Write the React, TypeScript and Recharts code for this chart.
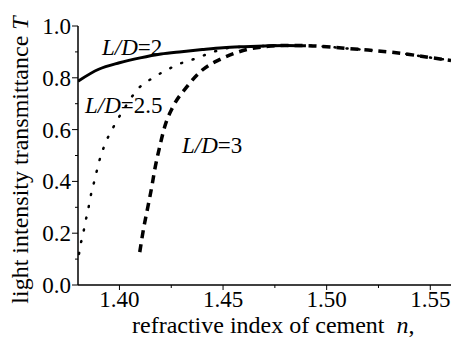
import React from 'react';
import { LineChart, Line, XAxis, YAxis, ReferenceDot } from 'recharts';

// L/D = 2 (solid)
const ld2N = [1.38, 1.39, 1.40, 1.41, 1.42, 1.43, 1.44, 1.45, 1.46, 1.47, 1.48, 1.49];
const ld2T = [0.787, 0.833, 0.858, 0.877, 0.892, 0.901, 0.909, 0.916, 0.920, 0.923, 0.925, 0.924];

// L/D = 2.5 (dotted)
const ld25N = [1.3805, 1.381, 1.3824, 1.3834, 1.3848, 1.3858, 1.3872, 1.3887, 1.390, 1.3925, 1.3973, 1.403, 1.4088, 1.416, 1.4228, 1.43, 1.437, 1.4435, 1.4516, 1.46, 1.47, 1.48, 1.49];
const ld25T = [0.12, 0.147, 0.193, 0.239, 0.285, 0.332, 0.379, 0.428, 0.471, 0.533, 0.613, 0.69, 0.756, 0.799, 0.83, 0.857, 0.875, 0.895, 0.914, 0.92, 0.923, 0.925, 0.924];

// L/D = 3 (dashed)
const ld3N = [1.4098, 1.4117, 1.4137, 1.4156, 1.417, 1.4194, 1.4218, 1.4257, 1.4324, 1.44, 1.448, 1.455, 1.462, 1.47, 1.48, 1.49];
const ld3T = [0.127, 0.22, 0.301, 0.379, 0.444, 0.533, 0.61, 0.686, 0.764, 0.83, 0.869, 0.893, 0.91, 0.92, 0.925, 0.924];

// shared tail where all curves coincide
const tailN = [1.50, 1.51, 1.52, 1.53, 1.54, 1.55, 1.56];
const tailT = [0.920, 0.913, 0.907, 0.900, 0.890, 0.878, 0.867];

const xTicks = [1.40, 1.425, 1.45, 1.475, 1.50, 1.525, 1.55];
const yTicks = [0, 0.1, 0.2, 0.3, 0.4, 0.5, 0.6, 0.7, 0.8, 0.9, 1.0];

const toPts = (ns: number[], ts: number[]) => ns.map((n, i) => ({ n, t: ts[i] }));

const ld2Data = toPts(ld2N, ld2T);
const ld25Data = toPts([...ld25N, ...tailN], [...ld25T, ...tailT]);
const ld3Data = toPts([...ld3N, ...tailN], [...ld3T, ...tailT]);

const FONT = 'Liberation Serif, Times New Roman, serif';

const XTick = (props: any) => {
  const { x, y, payload } = props;
  const major = Math.round(payload.value * 1000) % 50 === 0;
  return (
    <g>
      <line x1={x} x2={x} y1={y} y2={y + (major ? 5 : 3)} stroke="#000" strokeWidth={1} />
      {major && (
        <text x={x} y={y + 22} textAnchor="middle" fontFamily={FONT} fontSize={23} fill="#000">
          {payload.value.toFixed(2)}
        </text>
      )}
    </g>
  );
};

const YTick = (props: any) => {
  const { x, y, payload } = props;
  const major = Math.round(payload.value * 10) % 2 === 0;
  return (
    <g>
      <line x1={x} x2={x - (major ? 6 : 3)} y1={y} y2={y} stroke="#000" strokeWidth={1} />
      {major && (
        <text x={x - 7} y={y + 8} textAnchor="end" fontFamily={FONT} fontSize={23} fill="#000">
          {payload.value.toFixed(1)}
        </text>
      )}
    </g>
  );
};

const curveLabel = (num: string) => (p: any) => (
  <text x={p.cx} y={p.cy} fontFamily={FONT} fontSize={23} fill="#000">
    <tspan fontStyle="italic">L/D</tspan>
    <tspan>={num}</tspan>
  </text>
);

export default function App() {
  return (
    <div style={{ position: 'absolute', left: 0, top: 0, width: 458, height: 340, background: '#fff' }}>
      <LineChart width={458} height={340} margin={{ top: 26, right: 7, bottom: 0, left: 0 }}>
        <XAxis
          dataKey="n"
          type="number"
          domain={[1.38, 1.56]}
          ticks={xTicks}
          interval={0}
          allowDataOverflow
          height={55}
          tickSize={0}
          tickMargin={0}
          tickLine={false}
          axisLine={{ stroke: '#000', strokeWidth: 1.5 }}
          tick={<XTick />}
          label={{
            content: () => (
              <text x={132} y={333} fontFamily={FONT} fontSize={24} fill="#000">
                refractive index of cement{'\u00a0\u00a0'}
                <tspan fontStyle="italic">n</tspan>,
              </text>
            ),
          }}
        />
        <YAxis
          dataKey="t"
          type="number"
          domain={[0, 1]}
          ticks={yTicks}
          interval={0}
          width={78}
          tickSize={0}
          tickMargin={0}
          tickLine={false}
          axisLine={{ stroke: '#000', strokeWidth: 1.5 }}
          tick={<YTick />}
          label={{
            content: () => (
              <text
                x={28}
                y={160}
                transform="rotate(-90 28 160)"
                textAnchor="middle"
                fontFamily={FONT}
                fontSize={24}
                fill="#000"
              >
                light intensity transmittance <tspan fontStyle="italic">T</tspan>
              </text>
            ),
          }}
        />
        <Line
          data={ld25Data}
          dataKey="t"
          type="monotone"
          stroke="#000"
          strokeWidth={2.5}
          strokeDasharray="1 11"
          strokeLinecap="round"
          dot={false}
          isAnimationActive={false}
        />
        <Line
          data={ld3Data}
          dataKey="t"
          type="monotone"
          stroke="#000"
          strokeWidth={3.5}
          strokeDasharray="8 6"
          dot={false}
          isAnimationActive={false}
        />
        <Line
          data={ld2Data}
          dataKey="t"
          type="monotone"
          stroke="#000"
          strokeWidth={3}
          dot={false}
          isAnimationActive={false}
        />
        <ReferenceDot x={1.3916} y={0.888} r={0} shape={curveLabel('2')} />
        <ReferenceDot x={1.3834} y={0.664} r={0} shape={curveLabel('2.5')} />
        <ReferenceDot x={1.4302} y={0.51} r={0} shape={curveLabel('3')} />
      </LineChart>
    </div>
  );
}
